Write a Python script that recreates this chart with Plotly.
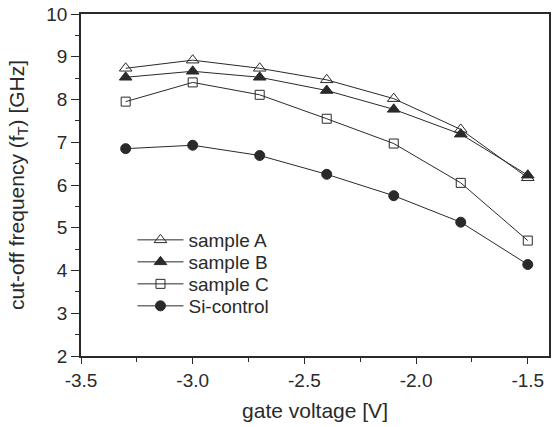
import plotly.graph_objects as go

gate_voltage = [-3.3, -3.0, -2.7, -2.4, -2.1, -1.8, -1.5]
sample_a = [8.73, 8.92, 8.73, 8.46, 8.02, 7.30, 6.17]
sample_b = [8.52, 8.66, 8.52, 8.21, 7.77, 7.19, 6.23]
sample_c = [7.95, 8.40, 8.11, 7.55, 6.97, 6.05, 4.70]
si_control = [6.85, 6.93, 6.69, 6.25, 5.75, 5.13, 4.14]

series = [
    ("sample A", sample_a, "triangle-up-open", 11),
    ("sample B", sample_b, "triangle-up", 11),
    ("sample C", sample_c, "square-open", 9),
    ("Si-control", si_control, "circle", 10),
]

W, H = 556, 427
M = dict(l=81, r=7, t=14, b=71)
plot_h = H - M["t"] - M["b"]

ink = "#2a2a2a"
font = "Liberation Sans, Arial, sans-serif"
fig = go.Figure()
legend_layouts = {}
for i, (name, vals, sym, sz) in enumerate(series):
    lname = "legend" if i == 0 else f"legend{i + 1}"
    fig.add_trace(go.Scatter(
        x=gate_voltage, y=vals, name=name, mode="lines+markers",
        line=dict(color=ink, width=1),
        marker=dict(symbol=sym, size=sz, color=ink,
                    line=dict(color=ink, width=1)),
        legend=lname,
    ))
    row_center_px = 240 + 22 * i  # pixel row centre from top of figure
    legend_layouts[lname] = dict(
        x=0.11, y=(H - M["b"] - row_center_px) / plot_h,
        xanchor="left", yanchor="middle",
        bgcolor="rgba(0,0,0,0)", font=dict(size=19, color=ink, family=font),
        itemwidth=46,
    )

fig.update_layout(
    width=W, height=H,
    margin=M,
    paper_bgcolor="white", plot_bgcolor="white",
    font=dict(family=font, size=19, color=ink),
    showlegend=True,
    **legend_layouts,
    xaxis=dict(
        range=[-3.5, -1.405], tickvals=[-3.5, -3.0, -2.5, -2.0, -1.5],
        ticktext=["-3.5", "-3.0", "-2.5", "-2.0", "-1.5"],
        ticks="outside", ticklen=6, tickwidth=1, tickcolor=ink,
        ticklabelstandoff=0,
        minor=dict(dtick=0.25, tick0=-3.5, ticks="outside", ticklen=4, tickcolor=ink),
        showline=True, linecolor=ink, linewidth=1.5, mirror=True,
        showgrid=False, zeroline=False, automargin=False,
        tickfont=dict(size=19),
        title=dict(text="gate voltage [V]", standoff=14, font=dict(size=21)),
    ),
    yaxis=dict(
        range=[2, 10], tickvals=list(range(2, 11)),
        ticks="outside", ticklen=8, tickwidth=1, tickcolor=ink,
        minor=dict(dtick=0.5, tick0=2, ticks="outside", ticklen=4, tickcolor=ink),
        showline=True, linecolor=ink, linewidth=1.5, mirror=True,
        showgrid=False, zeroline=False, automargin=False,
        tickfont=dict(size=19),
        title=dict(text="cut-off frequency (f<sub>T</sub>) [GHz]", standoff=16, font=dict(size=21)),
    ),
)

fig.write_html(
    "out.html",
    config={"displayModeBar": False},
    post_script="document.body.style.margin='0';document.body.style.overflow='hidden';",
)
